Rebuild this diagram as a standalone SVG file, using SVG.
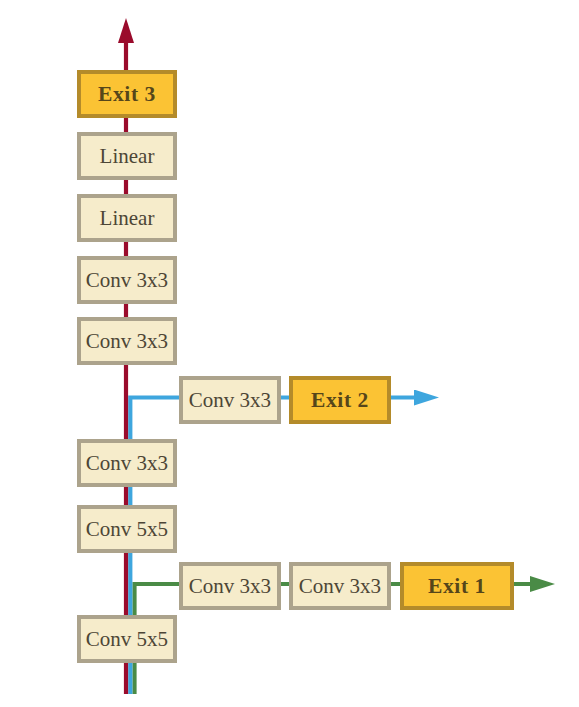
<svg xmlns="http://www.w3.org/2000/svg" width="579" height="707" viewBox="0 0 579 707">
<style>
.box{fill:#F6ECCB;stroke:#ACA38C;stroke-width:4}
.exit{fill:#FBC334;stroke:#B48B2A;stroke-width:4}
.t{font-family:"Liberation Serif","Times New Roman",serif;font-size:21px;fill:#4D4636;text-anchor:middle}
.tb{font-family:"Liberation Serif","Times New Roman",serif;font-size:21.5px;font-weight:bold;letter-spacing:0.6px;fill:#56461A;text-anchor:middle}
.ln{fill:none;stroke-width:4.2}
</style>
<defs>
<marker id="ar" markerUnits="userSpaceOnUse" markerWidth="26" markerHeight="17" refX="0" refY="8" orient="auto"><path d="M0,0 L25,8 L0,16 z" fill="#9A0B2C"/></marker>
<marker id="ab" markerUnits="userSpaceOnUse" markerWidth="26" markerHeight="17" refX="0" refY="8" orient="auto"><path d="M0,0 L25,8 L0,16 z" fill="#3EA6DE"/></marker>
<marker id="ag" markerUnits="userSpaceOnUse" markerWidth="26" markerHeight="17" refX="0" refY="8" orient="auto"><path d="M0,0 L25,8 L0,16 z" fill="#4A8B46"/></marker>
</defs>
<g id="connectors">
<path class="ln" d="M134.5,694 V584 H530" stroke="#4A8B46" marker-end="url(#ag)"/>
<path class="ln" d="M130.3,694 V397.5 H414" stroke="#3EA6DE" marker-end="url(#ab)"/>
<path class="ln" d="M126,694 V43" stroke="#9A0B2C" marker-end="url(#ar)"/>
</g>
<g id="exit3"><rect class="exit" x="79" y="72" width="96" height="44"/><text class="tb" x="127" y="101">Exit 3</text></g>
<g id="linear2"><rect class="box" x="79" y="134" width="96" height="44"/><text class="t" x="127" y="163">Linear</text></g>
<g id="linear1"><rect class="box" x="79" y="196" width="96" height="44"/><text class="t" x="127" y="225">Linear</text></g>
<g id="conv4"><rect class="box" x="79" y="258" width="96" height="44"/><text class="t" x="127" y="287">Conv 3x3</text></g>
<g id="conv3"><rect class="box" x="79" y="319" width="96" height="44"/><text class="t" x="127" y="348">Conv 3x3</text></g>
<g id="b2conv"><rect class="box" x="181" y="378" width="98" height="44"/><text class="t" x="230" y="407">Conv 3x3</text></g>
<g id="exit2"><rect class="exit" x="291" y="378" width="98" height="44"/><text class="tb" x="340" y="407">Exit 2</text></g>
<g id="conv2"><rect class="box" x="79" y="441" width="96" height="44"/><text class="t" x="127" y="470">Conv 3x3</text></g>
<g id="conv5b"><rect class="box" x="79" y="507" width="96" height="44"/><text class="t" x="127" y="536">Conv 5x5</text></g>
<g id="b1conv1"><rect class="box" x="181" y="564" width="98" height="44"/><text class="t" x="230" y="593">Conv 3x3</text></g>
<g id="b1conv2"><rect class="box" x="291" y="564" width="98" height="44"/><text class="t" x="340" y="593">Conv 3x3</text></g>
<g id="exit1"><rect class="exit" x="402" y="564" width="110" height="44"/><text class="tb" x="457" y="593">Exit 1</text></g>
<g id="conv5a"><rect class="box" x="79" y="617" width="96" height="44"/><text class="t" x="127" y="646">Conv 5x5</text></g>
</svg>
